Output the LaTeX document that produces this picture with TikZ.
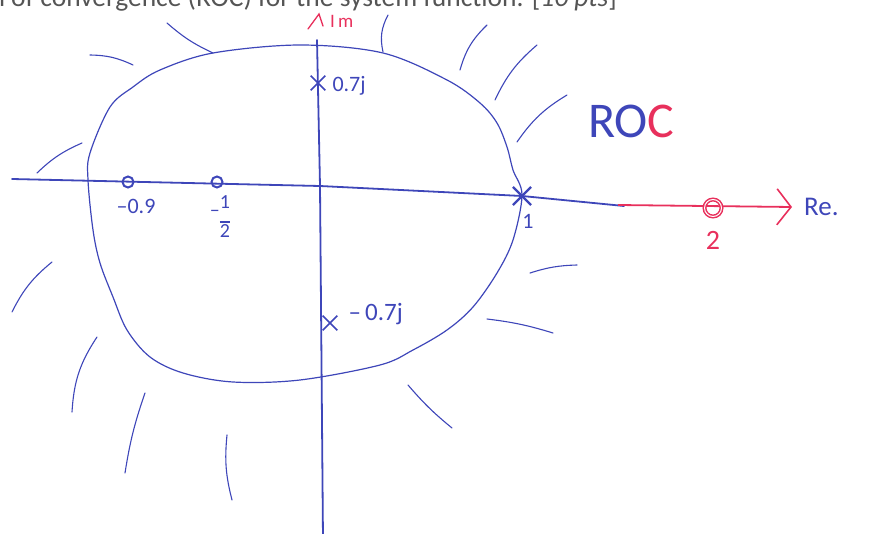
\documentclass[tikz,border=0pt]{standalone}
\usepackage{fontspec}
\setmainfont{Carlito}
\usetikzlibrary{positioning,arrows.meta,shapes.misc}
\definecolor{ink}{RGB}{62,70,185}
\definecolor{redink}{RGB}{232,48,92}
\definecolor{printgray}{RGB}{85,85,85}

\begin{document}
\begin{tikzpicture}[x=1pt, y=-1pt,
  axe/.style={ink, line width=1.8pt, line cap=round},
  roc/.style={ink, line width=1.2pt},
  hatch/.style={ink, line width=1.1pt, line cap=round},
  pole/.style={cross out, draw=ink, line width=1.6pt,
    minimum size=13pt, inner sep=0pt},
  zero/.style={circle, draw=ink, line width=2pt,
    minimum size=11pt, inner sep=0pt},
  lbl/.style={ink, inner sep=1pt, font=\fontsize{22}{24}\selectfont}
]
  \useasboundingbox (0,0) rectangle (869,534);
  \clip (0,0) rectangle (869,534);

  % --- texte du sujet (coupe en haut) ---
  \node[printgray, anchor=base east, inner sep=0pt,
        font=\fontsize{27.5}{30}\selectfont] (sujet) at (617,7)
    {region of convergence (ROC) for the system function. [\textit{10 pts}]};

  % --- axes ---
  \coordinate (reG) at (12,179);
  \coordinate (orig) at (320,186);
  \coordinate (reM) at (624,206);
  \coordinate (reD) at (792,207);
  \coordinate (imH) at (317,40);
  \coordinate (imB) at (323,540);

  \draw[axe] (reG) -- (orig) -- (522,196) -- (reM);
  \draw[axe] (imH) -- (orig) -- (imB);
  \draw[redink, line width=1.8pt,
        -{Straight Barb[length=14pt, width=36pt, line width=1.6pt]}]
    (618,205) -- (reD);
  \draw[redink, line width=1.3pt, line cap=round]
    (308,29) -- (319,14) -- (323,26);

  \node[redink, anchor=west, inner sep=0pt,
        font=\fontsize{19}{21}\selectfont] (im) at (330,21) {I\,m};
  \node[ink, anchor=west, inner sep=0pt,
        font=\fontsize{27}{29}\selectfont] (re) at (804,207) {Re.};

  % --- frontiere de la ROC ---
  \draw[roc] plot[smooth cycle, tension=0.55] coordinates {
    (88,180) (90,153) (110,107) (133,87) (160,70) (213,53) (300,45)
    (383,53) (447,80) (480,103) (497,123) (507,147) (513,170) (522,195)
    (513,240) (497,273) (473,307) (447,330) (413,350) (380,365)
    (300,380) (233,382) (183,373) (150,357) (127,330) (113,297)
    (100,263) (93,230)};

  % --- hachures exterieures ---
  \draw[hatch] (167,23) to[bend right=8] (213,53);
  \draw[hatch] (90,55) to[bend left=12] (133,65);
  \draw[hatch] (37,173) to[bend left=10] (82,143);
  \draw[hatch] (460,70) to[bend left=15] (487,25);
  \draw[hatch] (495,100) to[bend left=12] (537,45);
  \draw[hatch] (517,142) to[bend left=12] (567,95);
  \draw[hatch] (383,52) to[bend left=20] (388,15);
  \draw[hatch] (12,312) to[bend left=12] (52,262);
  \draw[hatch] (72,412) to[bend left=15] (97,337);
  \draw[hatch] (125,473) to[bend left=5] (145,393);
  \draw[hatch] (232,500) to[bend left=10] (227,435);
  \draw[hatch] (530,273) to[bend left=8] (577,265);
  \draw[hatch] (487,319) to[bend left=5] (553,333);
  \draw[hatch] (408,385) to[bend right=5] (452,428);

  % --- poles ---
  \node[pole] (p1) at (318,83) {};
  \node[pole] (p2) at (330,323) {};
  \node[pole, minimum size=16pt, line width=2.2pt] (p3) at (522,196) {};

  \node[lbl, right=6pt of p1, yshift=-3pt] {0.7j};
  \node[lbl, right=10pt of p2, yshift=9pt,
        font=\fontsize{25}{27}\selectfont] {–\,0.7j};
  \node[lbl, below=8pt of p3, xshift=6pt] {1};

  % --- zeros ---
  \node[zero] (z1) at (128,182) {};
  \node[zero] (z2) at (217,182) {};
  \node[zero, draw=redink, minimum size=17pt, double=white,
        double distance=1pt, line width=1.5pt] (z3) at (713,208) {};

  \node[lbl, below=10pt of z1, xshift=8pt] {–0.9};
  \node[ink, inner sep=0pt, below=6pt of z2, xshift=3pt,
        font=\fontsize{20}{20}\selectfont]
    {\raisebox{8pt}{–}\begin{tabular}{@{}c@{}}1\\[-6pt]\rule{10pt}{1.2pt}\\[-5pt]2\end{tabular}};
  \node[redink, inner sep=0pt, below=14pt of z3,
        font=\fontsize{28}{30}\selectfont] {2};

  % --- etiquette ROC ---
  \node[ink, anchor=west, inner sep=0pt,
        font=\fontsize{50}{52}\selectfont] (roclbl) at (588,121)
    {RO\textcolor{redink}{C}};

\end{tikzpicture}
\end{document}
